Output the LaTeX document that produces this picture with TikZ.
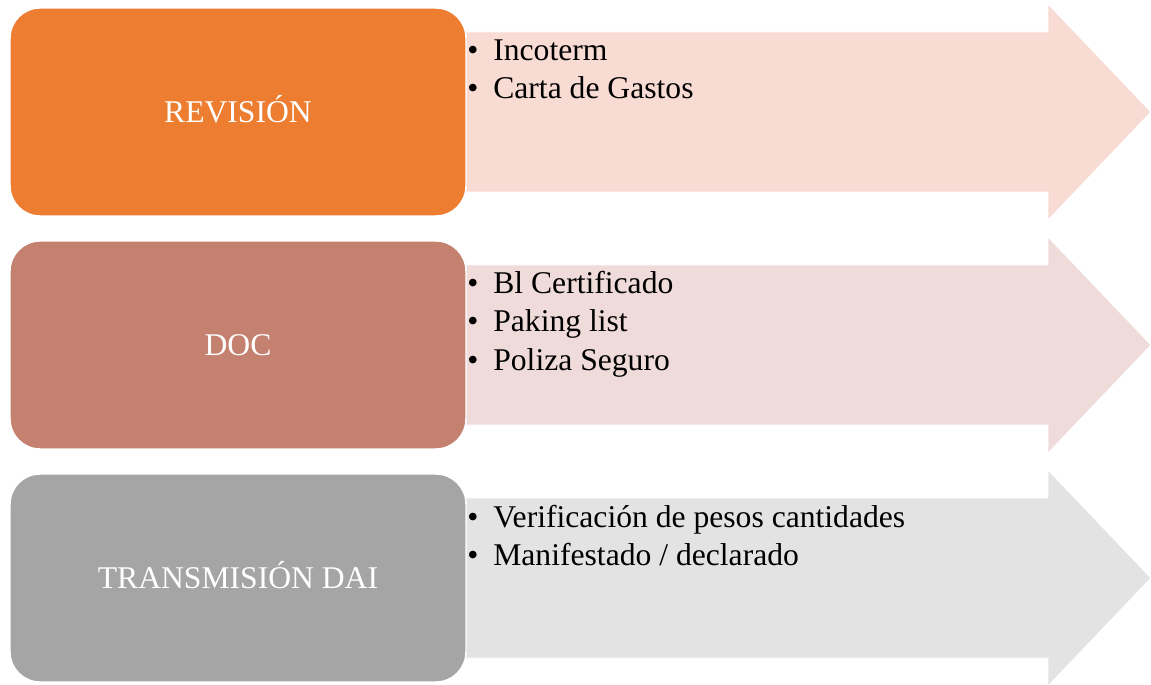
\documentclass[tikz,border=0pt]{standalone}
\usepackage{fontspec}
\setmainfont{Liberation Serif}
\definecolor{revOrange}{HTML}{ED7D31}
\definecolor{revArrow}{HTML}{F8DBD3}
\definecolor{docBrick}{HTML}{C4816F}
\definecolor{docArrow}{HTML}{EEDBDA}
\definecolor{daiGray}{HTML}{A5A5A5}
\definecolor{daiArrow}{HTML}{E3E3E3}
\newcommand{\itembullet}{\makebox[0.52cm][l]{\textbullet}}
\tikzset{
	stage/.style={draw=white, line width=0.8pt, rounded corners=0.6cm,
		minimum width=9.12cm, minimum height=4.16cm, text=white,
		text height=11.9pt, text depth=0pt,
		font=\fontsize{18}{21.6}\selectfont},
	band/.style={draw=white, line width=0.5pt},
	item/.style={anchor=base west, inner sep=0pt, font=\fontsize{18}{21.6}\selectfont},
}
\begin{document}
\begin{tikzpicture}[x=0.02cm, y=-0.02cm]
		\useasboundingbox (0,0) rectangle (1151,685);
		% arrows behind the boxes
		\fill[band, fill=revArrow] (460,32) -- (1048,32) -- (1048,4) -- (1151,112) -- (1048,220) -- (1048,192) -- (460,192) -- cycle;
		\fill[band, fill=docArrow] (460,265) -- (1048,265) -- (1048,237) -- (1151,345) -- (1048,453) -- (1048,425) -- (460,425) -- cycle;
		\fill[band, fill=daiArrow] (460,498) -- (1048,498) -- (1048,470) -- (1151,578) -- (1048,686) -- (1048,658) -- (460,658) -- cycle;
		% stages
		\node[stage, fill=revOrange] (revision) at (238,112) {REVISIÓN};
		\node[stage, fill=docBrick] (doc) at (238,345) {DOC};
		\node[stage, fill=daiGray] (dai) at (238,578) {TRANSMISIÓN DAI};
		% items
		\node[item] (incoterm) at (467,61) {\itembullet Incoterm};
		\node[item] (carta) at (467,99) {\itembullet Carta de Gastos};
		\node[item] (bl) at (467,294) {\itembullet Bl Certificado};
		\node[item] (paking) at (467,332) {\itembullet Paking list};
		\node[item] (poliza) at (467,370) {\itembullet Poliza Seguro};
		\node[item] (pesos) at (467,527) {\itembullet Verificación de pesos cantidades};
		\node[item] (manif) at (467,565) {\itembullet Manifestado / declarado};
	\end{tikzpicture}
\end{document}
